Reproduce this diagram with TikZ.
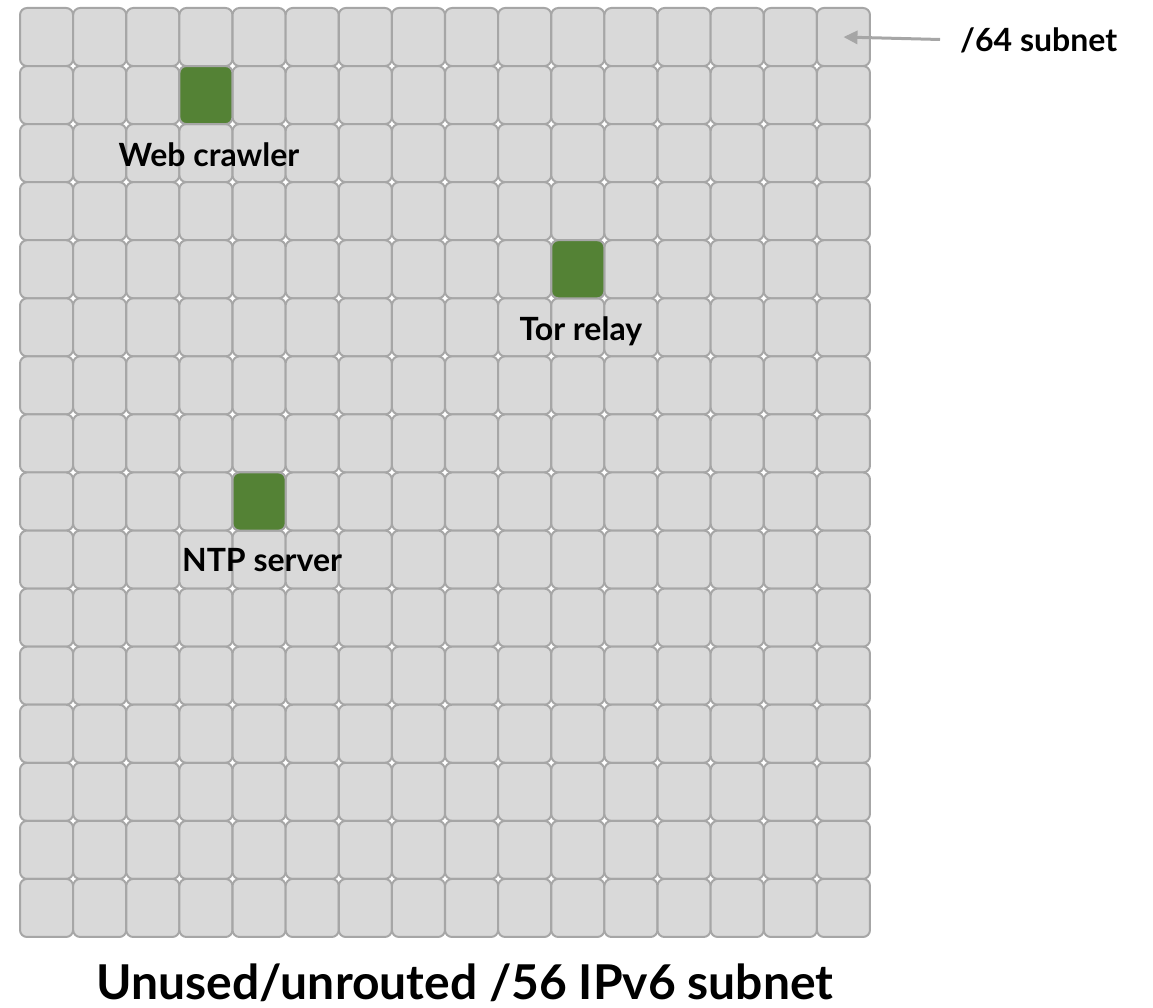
\documentclass[tikz,border=0pt]{standalone}
\usepackage{fontspec}
\setmainfont{Lato}
\usetikzlibrary{positioning, arrows.meta}
\definecolor{cellgray}{HTML}{D9D9D9}
\definecolor{edgegray}{HTML}{A6A6A6}
\definecolor{hostgreen}{HTML}{548235}

\begin{document}
\begin{tikzpicture}[x=1pt, y=-1pt]
    % Styles
    \tikzstyle{cell} = [rectangle, draw=edgegray, fill=cellgray, line width=2pt, rounded corners=7pt, minimum width=53.1pt, minimum height=58.1pt, inner sep=0pt]
    \tikzstyle{host} = [cell, fill=hostgreen]
    \tikzstyle{tag} = [font=\fontsize{32}{36}\selectfont\bfseries, inner sep=0pt]
    \tikzstyle{headline} = [font=\fontsize{48}{54}\selectfont\bfseries, inner sep=0pt]
    \tikzstyle{pointer} = [draw=edgegray, line width=3pt, -{Triangle[length=14pt,width=13pt]}]

    \useasboundingbox (0,0) rectangle (1153,1008);

    % --- GRID: 16 x 16 /64 SUBNETS ---
    \foreach \i in {0,...,15}
      \foreach \j in {0,...,15}
        \node [cell] (c-\i-\j) at (46.56+53.125*\i, 37.03+58.06*\j) {};

    % --- USED SUBNETS ---
    \node [host] (crawler) at (c-3-1) {};
    \node [host] (tor) at (c-10-4) {};
    \node [host] (ntp) at (c-4-8) {};

    \node [tag, below=17pt of crawler, xshift=3pt] (crawlertxt) {Web crawler};
    \node [tag, below=17pt of tor, xshift=3pt] (tortxt) {Tor relay};
    \node [tag, below=17pt of ntp, xshift=3pt] (ntptxt) {NTP server};

    % --- LABELS ---
    \node [tag, anchor=west] (sub64) at (960, 40) {/64 subnet};
    \path [pointer, shorten <=20pt] (sub64.west) -- (c-15-0.center);

    \node [headline] (title) at (465, 983) {Unused/unrouted /56 IPv6 subnet};

\end{tikzpicture}
\end{document}
